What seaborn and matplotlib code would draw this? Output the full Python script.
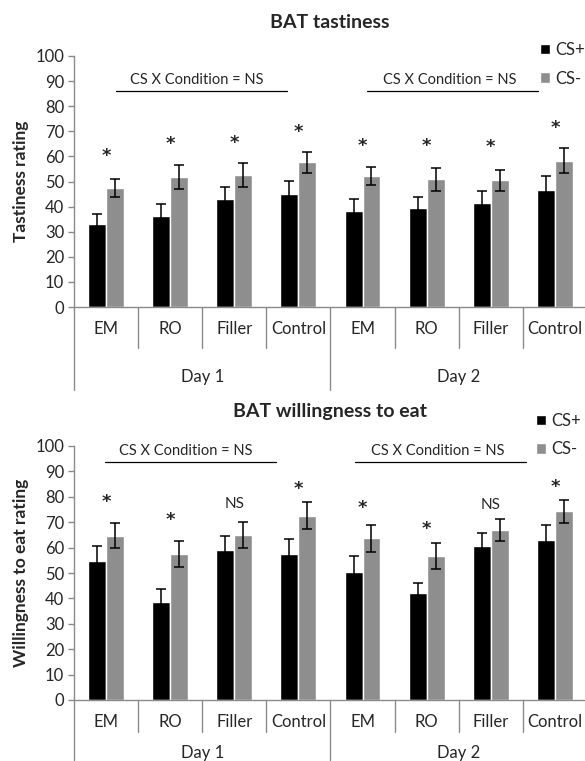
import numpy as np
import pandas as pd
import seaborn as sns
import matplotlib.pyplot as plt
from matplotlib.transforms import blended_transform_factory

conditions = ["EM", "RO", "Filler", "Control"]
days = ["Day 1", "Day 2"]
cues = ["CS+", "CS-"]

# BAT tastiness (Day 1 EM..Control, then Day 2 EM..Control)
taste_csp = [33.2, 36.1, 43.2, 44.9, 38.4, 39.4, 41.4, 46.8]
taste_csp_err = [4.0, 4.8, 4.8, 5.2, 4.5, 4.4, 5.0, 5.2]
taste_csm = [47.4, 51.7, 52.6, 57.6, 52.1, 50.9, 50.4, 58.2]
taste_csm_err = [3.6, 4.7, 4.6, 4.2, 3.6, 4.5, 4.2, 5.0]
taste_marks = ["*", "*", "*", "*", "*", "*", "*", "*"]
taste_mark_y = [60.0, 65.0, 65.5, 69.6, 64.3, 64.0, 63.7, 71.3]

# BAT willingness to eat
will_csp = [54.9, 38.5, 59.1, 57.3, 50.5, 42.0, 60.6, 63.0]
will_csp_err = [5.7, 5.3, 5.5, 5.9, 6.2, 4.2, 5.0, 5.9]
will_csm = [64.7, 57.5, 64.9, 72.6, 63.6, 56.6, 66.9, 74.3]
will_csm_err = [4.9, 5.1, 5.1, 5.3, 5.4, 5.2, 4.4, 4.6]
will_marks = ["*", "*", "NS", "*", "*", "*", "NS", "*"]
will_mark_y = [77.8, 71.0, 77.3, 83.1, 75.5, 67.4, 76.6, 84.0]

interaction_text = "CS X Condition = NS"

sns.set_style("white")
plt.rcParams['font.family'] = ['Lato', 'DejaVu Sans']

W, H = 585, 761
AXC = "#8a8a8a"
fig = plt.figure(figsize=(W / 100, H / 100), dpi=100)


def make_axes(y0, y100):
    return fig.add_axes([74 / W, 1 - y0 / H, (W - 74) / W, (y0 - y100) / H])


def draw_panel(ax, csp, csp_err, csm, csm_err, marks, mark_y, h_px,
               short_px, long_px, lab_px, day_px, inter, legend_xy):
    groups = [d + " " + c for d in days for c in conditions]
    df = pd.DataFrame({
        "group": groups * 2,
        "cue": ["CS+"] * 8 + ["CS-"] * 8,
        "rating": csp + csm,
        "err": csp_err + csm_err,
    })
    sns.barplot(data=df, x="group", y="rating", hue="cue", order=groups,
                hue_order=cues, palette={"CS+": "black", "CS-": "#8e8e8e"},
                width=0.56, gap=0, errorbar=None, saturation=1, ax=ax)
    bars = [p for p in ax.patches if p.get_width() > 0][:16]
    xs = [b.get_x() + b.get_width() / 2 for b in bars]
    ys = [b.get_height() for b in bars]
    ax.errorbar(xs, ys, yerr=df["err"], fmt="none", ecolor="black",
                elinewidth=1.1, capsize=3.5, capthick=1.1, zorder=3)

    ax.set_ylim(0, 100)
    ax.set_xlim(-0.5, 7.47)
    ax.set_yticks(range(0, 101, 10))
    ax.tick_params(axis="y", labelsize=12, length=4, width=1, color=AXC,
                   pad=3, left=True)
    ax.set_xticks([])
    ax.set_xlabel("")
    ax.set_ylabel("")
    for s in ["top", "right"]:
        ax.spines[s].set_visible(False)
    for s in ["left", "bottom"]:
        ax.spines[s].set_color(AXC)
        ax.spines[s].set_linewidth(1)

    trans = blended_transform_factory(ax.transData, ax.transAxes)
    for i in range(9):
        x = i - 0.5
        depth = long_px if i in (0, 4, 8) else short_px
        ax.plot([x, x], [0, -depth / h_px], transform=trans, color=AXC,
                lw=1, clip_on=False)
    for i, c in enumerate(conditions * 2):
        ax.text(i, -lab_px / h_px, c, transform=trans, ha="center",
                va="center", fontsize=12)
    for j, d in enumerate(days):
        ax.text(1.5 + 4 * j, -day_px / h_px, d, transform=trans,
                ha="center", va="center", fontsize=12)

    for i, (m, y) in enumerate(zip(marks, mark_y)):
        if m == "*":
            ax.text(i, y, m, ha="center", va="center", fontsize=13,
                    family="DejaVu Sans", fontweight="bold", clip_on=False)
        else:
            ax.text(i, y, m, ha="center", va="center", fontsize=11,
                    clip_on=False)

    (tx1, tx2, ty, x0a, x1a, x0b, x1b, ly) = inter
    for tx, xa, xb in [(tx1, x0a, x1a), (tx2, x0b, x1b)]:
        ax.text(tx, ty, interaction_text, ha="center", va="center",
                fontsize=10.5, clip_on=False)
        ax.plot([xa, xb], [ly, ly], color="black", lw=0.9, clip_on=False)

    handles, labels = ax.get_legend_handles_labels()
    ax.legend(handles, labels, loc="upper left",
              bbox_to_anchor=(legend_xy[0] / W, 1 - legend_xy[1] / H),
              bbox_transform=fig.transFigure, frameon=False, fontsize=12,
              handlelength=0.6, handleheight=0.6, handletextpad=0.3,
              labelspacing=0.75, borderpad=0, borderaxespad=0)


ax1 = make_axes(307, 56)
draw_panel(ax1, taste_csp, taste_csp_err, taste_csm, taste_csm_err,
           taste_marks, taste_mark_y, 251, 41, 83, 22, 70,
           (1.42, 5.36, 90.5, 0.155, 2.816, 4.073, 6.734, 86.0), (540, 42))
ax2 = make_axes(700, 446)
draw_panel(ax2, will_csp, will_csp_err, will_csm, will_csm_err,
           will_marks, will_mark_y, 254, 32, 61, 22, 53,
           (1.25, 5.17, 98.0, -0.016, 2.649, 3.89, 6.555, 93.8), (536, 413))

fig.text(330 / W, 1 - 22 / H, "BAT tastiness", ha="center", va="center",
         fontsize=14, fontweight="bold")
fig.text(330 / W, 1 - 412 / H, "BAT willingness to eat", ha="center",
         va="center", fontsize=14, fontweight="bold")
fig.text(21 / W, 1 - 181 / H, "Tastiness rating", rotation=90, ha="center",
         va="center", fontsize=12.5, fontweight="bold")
fig.text(21 / W, 1 - 573 / H, "Willingness to eat rating", rotation=90,
         ha="center", va="center", fontsize=12.5, fontweight="bold")

fig.savefig("out.png", dpi=100)
